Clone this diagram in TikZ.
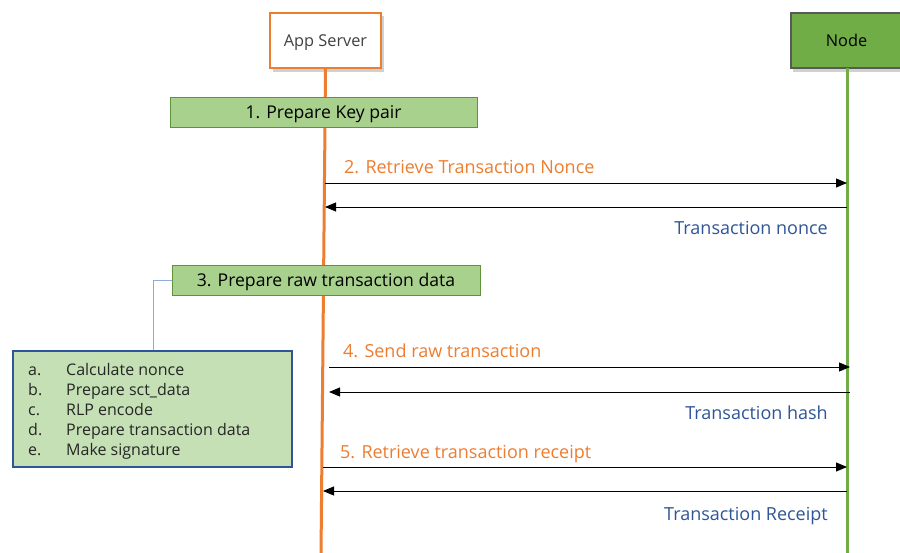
\documentclass[tikz,border=0pt]{standalone}
\usepackage{fontspec}
\setmainfont{Open Sans}
\usetikzlibrary{arrows.meta,shadows}
\definecolor{orng}{HTML}{ED7D31}
\definecolor{grn}{HTML}{70AD47}
\definecolor{lgrn}{HTML}{A9D18E}
\definecolor{pgrn}{HTML}{C5E0B4}
\definecolor{navy}{HTML}{2F5597}
\definecolor{lblue}{HTML}{8FAADC}
\tikzset{
  actor/.style={draw, line width=2pt, minimum width=111pt, minimum height=55pt,
    font=\fontsize{16.3}{18}\selectfont, text height=11.6pt, text depth=0pt},
  boxshade/.style={fill=black, opacity=0.18},
  stepbox/.style={draw=grn!85!black, fill=lgrn, line width=0.8pt, minimum height=30pt,
    font=\fontsize{17.6}{20}\selectfont, text height=12.5pt, text depth=0pt},
  msg/.style={line width=0.9pt, -{Triangle[length=11pt,width=9pt]}},
  req/.style={text=orng, font=\fontsize{18}{20}\selectfont, anchor=base west, inner sep=0pt},
  resp/.style={text=navy, font=\fontsize{18}{20}\selectfont, anchor=base east, inner sep=0pt},
  item/.style={anchor=base west, inner sep=0pt, text=black!85, font=\fontsize{16}{18}\selectfont},
  life/.style={line width=3pt},
}
\begin{document}
\begin{tikzpicture}[x=1pt,y=-1pt]
\useasboundingbox (0,0) rectangle (900,553);
\clip (0,0) rectangle (900,553);
\fill[white] (0,0) rectangle (900,553);

% soft shadows under the two participant boxes
\fill[boxshade] (273,16) rectangle (384,72);
\fill[boxshade] (793,16) rectangle (910,72);

% participants
\node[actor, draw=orng, fill=white, text=black!75] (app) at (325.5,40.5) {App Server};
\node[actor, draw=black!65, fill=grn, text=black, minimum width=120pt, anchor=west] (node) at (790,40.5) {\hspace*{-9pt}Node};

% lifelines
\coordinate (append) at (321,556);
\coordinate (nodetop) at (847,68);
\coordinate (nodeend) at (847,556);
\draw[life, orng] (app.south) -- (append);
\draw[life, grn] (nodetop) -- (nodeend);

% step 1
\node[stepbox, minimum width=307pt] (s1) at (323.5,112) {1. Prepare Key pair};

% step 2: nonce request / response
\coordinate (r2a) at (325,183); \coordinate (r2b) at (847,183);
\coordinate (b2a) at (847,207); \coordinate (b2b) at (325,207);
\draw[msg] (r2a) -- (r2b);
\draw[msg] (b2a) -- (b2b);
\node[req] (l2) at (344,174) {2. Retrieve Transaction Nonce};
\node[resp] (t2) at (828,235) {Transaction nonce};

% step 3 with its sub-steps
\node[stepbox, minimum width=308pt] (s3) at (326,280) {3. Prepare raw transaction data};
\node[draw=navy, fill=pgrn, line width=1.8pt, minimum width=279pt, minimum height=116pt,
      anchor=north west, inner sep=0pt] (sub) at (12,350) {};
\coordinate (subtop) at (153,350);
\draw[lblue, line width=0.9pt] (s3.west) -| (subtop);
\foreach \l/\t [count=\i from 0] in {a./Calculate nonce, b./Prepare sct\_data, c./RLP encode,
    d./Prepare transaction data, e./Make signature}{
  \node[item] (ltr\i) at (28,375.5+20*\i) {\l};
  \node[item] (itm\i) at (66,375.5+20*\i) {\t};
}

% step 4: send raw transaction
\coordinate (r4a) at (329,367); \coordinate (r4b) at (850,367);
\coordinate (b4a) at (850,392); \coordinate (b4b) at (329,392);
\draw[msg] (r4a) -- (r4b);
\draw[msg] (b4a) -- (b4b);
\node[req] (l4) at (343,358) {4. Send raw transaction};
\node[resp] (t4) at (828,419) {Transaction hash};

% step 5: receipt
\coordinate (r5a) at (323,467); \coordinate (r5b) at (847,467);
\coordinate (b5a) at (847,491); \coordinate (b5b) at (323,491);
\draw[msg] (r5a) -- (r5b);
\draw[msg] (b5a) -- (b5b);
\node[req] (l5) at (340,458) {5. Retrieve transaction receipt};
\node[resp] (t5) at (828,520) {Transaction Receipt};
\end{tikzpicture}
\end{document}
